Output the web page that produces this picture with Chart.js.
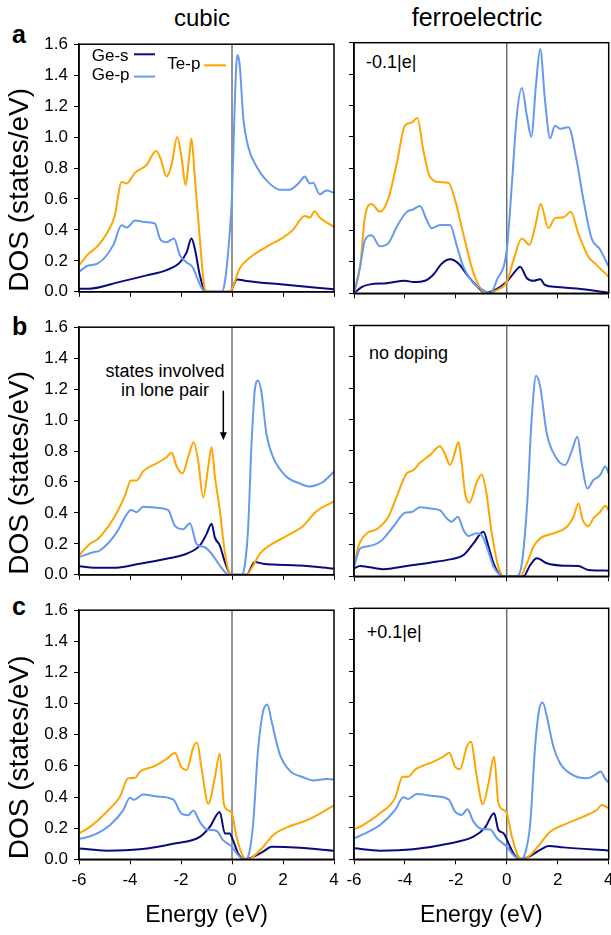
<!DOCTYPE html>
<html>
<head>
<meta charset="utf-8">
<script src="https://cdn.jsdelivr.net/npm/chart.js@4.4.1/dist/chart.umd.min.js"></script>
<style>
  html, body { margin: 0; padding: 0; background: #fff; overflow: hidden; }
  body { width: 611px; height: 935px; position: relative; font-family: "Liberation Sans", Arial, sans-serif; }
  canvas { position: absolute; }
  .txt { position: absolute; white-space: nowrap; line-height: 1; color: #000; }
  .mid { transform: translateX(-50%); }
</style>
</head>
<body>
<div class="txt mid" style="left:202px; top:5.7px; font-size:24px;">cubic</div>
<div class="txt mid" style="left:477px; top:4.8px; font-size:25px;">ferroelectric</div>
<div class="txt" style="left:12px; top:22.1px; font-size:25px; font-weight:bold;">a</div>
<div class="txt" style="left:12px; top:313.8px; font-size:25px; font-weight:bold;">b</div>
<div class="txt" style="left:12px; top:593.8px; font-size:25px; font-weight:bold;">c</div>
<div class="txt" style="left:366px; top:53.1px; font-size:18px;">-0.1|e|</div>
<div class="txt" style="left:369px; top:344.1px; font-size:18px;">no doping</div>
<div class="txt" style="left:366.7px; top:623px; font-size:18px;">+0.1|e|</div>
<div class="txt mid" style="left:165px; top:362px; font-size:18px;">states involved</div>
<div class="txt mid" style="left:165px; top:380.5px; font-size:18px;">in lone pair</div>

<script>
// DOS curves, [energy (eV), DOS (states/eV)]
// row a: -0.1|e| doping
const a_cubic_geS = [[-6,0.02],[-5.6,0.02],[-4.4,0.064],[-3.35,0.106],[-2.57,0.14],[-2.04,0.19],[-1.78,0.255],[-1.59,0.345],[-1.46,0.28],[-1.26,0.106],[-1.07,0.01],[-0.93,0],[-0.09,0],[0.2,0.08],[0.57,0.07],[2.0,0.047],[4,0.017]]
const a_cubic_geP = [[-6,0.13],[-5.63,0.17],[-5.3,0.18],[-4.66,0.30],[-4.33,0.43],[-4.13,0.415],[-3.8,0.46],[-3.35,0.45],[-3.02,0.44],[-2.83,0.345],[-2.57,0.32],[-2.28,0.345],[-2.04,0.235],[-1.78,0.19],[-1.55,0.16],[-1.33,0.075],[-1.13,0.01],[-1.0,0],[-0.41,0],[-0.28,0.064],[-0.09,0.38],[0,0.62],[0.11,1.23],[0.21,1.53],[0.3,1.47],[0.44,1.13],[0.63,0.94],[0.96,0.81],[1.35,0.72],[1.87,0.66],[2.26,0.66],[2.66,0.71],[2.85,0.745],[3.05,0.70],[3.18,0.705],[3.44,0.63],[3.7,0.655],[4,0.64]]
const a_cubic_teP = [[-6,0.17],[-5.63,0.245],[-5.3,0.29],[-4.9,0.38],[-4.6,0.49],[-4.33,0.71],[-4.13,0.70],[-3.8,0.77],[-3.35,0.82],[-2.98,0.91],[-2.8,0.86],[-2.57,0.745],[-2.37,0.82],[-2.15,1.0],[-1.98,0.87],[-1.82,0.69],[-1.68,0.87],[-1.59,0.99],[-1.46,0.745],[-1.26,0.34],[-1.07,0.02],[-0.93,0],[-0.09,0],[0.05,0.04],[0.3,0.15],[0.7,0.22],[1.35,0.29],[2.0,0.35],[2.39,0.40],[2.85,0.49],[3.05,0.48],[3.24,0.52],[3.44,0.48],[4,0.42]]
const a_ferro_geS = [[-6,0],[-5.7,0.04],[-5.37,0.057],[-4.72,0.064],[-4.0,0.08],[-3.67,0.072],[-3.21,0.08],[-2.88,0.12],[-2.55,0.19],[-2.23,0.217],[-1.9,0.19],[-1.57,0.12],[-1.18,0.047],[-0.85,0.004],[-0.52,0.017],[0,0.074],[0.33,0.14],[0.52,0.17],[0.79,0.096],[1.05,0.08],[1.31,0.09],[1.5,0.053],[1.96,0.04],[2.74,0.03],[4,0.004]]
const a_ferro_geP = [[-6,0],[-5.76,0.17],[-5.57,0.34],[-5.31,0.37],[-4.98,0.30],[-4.65,0.32],[-4.32,0.425],[-3.93,0.52],[-3.67,0.536],[-3.41,0.557],[-3.15,0.47],[-2.95,0.415],[-2.62,0.436],[-2.23,0.436],[-1.96,0.30],[-1.71,0.17],[-1.31,0.064],[-0.92,0.02],[-0.65,0],[-0.39,0.085],[0,0.28],[0.2,0.70],[0.39,1.13],[0.59,1.31],[0.79,1.13],[0.96,1.0],[1.15,1.34],[1.31,1.56],[1.5,1.23],[1.7,0.99],[1.89,1.07],[2.09,1.05],[2.42,1.06],[2.74,0.85],[3.01,0.595],[3.33,0.35],[3.66,0.28],[4,0.17]]
const a_ferro_teP = [[-6,0],[-5.76,0.17],[-5.57,0.49],[-5.31,0.57],[-4.98,0.52],[-4.65,0.606],[-4.32,0.83],[-4.0,1.07],[-3.74,1.09],[-3.51,1.12],[-3.28,0.915],[-3.02,0.745],[-2.62,0.71],[-2.29,0.705],[-2.03,0.595],[-1.71,0.38],[-1.31,0.13],[-0.99,0.02],[-0.72,0],[-0.39,0.02],[0,0.074],[0.26,0.21],[0.59,0.35],[0.89,0.31],[1.11,0.425],[1.33,0.57],[1.63,0.415],[1.89,0.48],[2.22,0.485],[2.51,0.52],[2.81,0.38],[3.2,0.234],[3.53,0.18],[4,0.106]]
// row b: no doping
const b_cubic_geS = [[-6,0.055],[-5.18,0.045],[-4.66,0.045],[-3.61,0.072],[-2.57,0.104],[-1.78,0.136],[-1.26,0.19],[-1.0,0.263],[-0.8,0.33],[-0.67,0.24],[-0.48,0.19],[-0.28,0.083],[-0.09,0.008],[0.05,0],[0.57,0],[0.89,0.083],[1.22,0.072],[2.66,0.06],[4,0.04]]
const b_cubic_geP = [[-6,0.115],[-5.44,0.146],[-5.18,0.157],[-4.52,0.274],[-4.13,0.39],[-3.96,0.418],[-3.74,0.405],[-3.48,0.44],[-2.96,0.433],[-2.5,0.418],[-2.24,0.316],[-1.91,0.295],[-1.65,0.333],[-1.39,0.20],[-1.07,0.178],[-0.8,0.136],[-0.48,0.06],[-0.22,0.008],[-0.09,0],[0.37,0],[0.5,0.06],[0.63,0.295],[0.76,0.825],[0.89,1.186],[1.02,1.256],[1.15,1.186],[1.35,0.91],[1.61,0.76],[2.13,0.635],[2.66,0.59],[3.05,0.57],[3.31,0.58],[3.57,0.60],[4,0.667]]
const b_cubic_teP = [[-6,0.125],[-5.57,0.20],[-5.24,0.235],[-4.66,0.36],[-4.2,0.51],[-3.96,0.61],[-3.74,0.61],[-3.48,0.67],[-2.96,0.72],[-2.57,0.76],[-2.37,0.79],[-2.17,0.70],[-1.94,0.655],[-1.72,0.76],[-1.5,0.857],[-1.33,0.74],[-1.13,0.50],[-0.93,0.70],[-0.8,0.825],[-0.67,0.635],[-0.48,0.42],[-0.28,0.146],[-0.09,0.008],[0.05,0],[0.57,0],[0.83,0.06],[1.09,0.136],[1.48,0.19],[2.13,0.25],[2.79,0.316],[3.31,0.41],[4,0.475]]
const b_ferro_geS = [[-6,0.05],[-5.76,0.066],[-4.85,0.045],[-3.93,0.066],[-3.02,0.087],[-2.23,0.108],[-1.7,0.136],[-1.31,0.21],[-0.92,0.284],[-0.72,0.19],[-0.52,0.083],[-0.26,0.008],[-0.13,0],[0.65,0],[0.92,0.072],[1.18,0.115],[1.57,0.083],[2.22,0.068],[2.81,0.066],[3.2,0.04],[4,0.036]]
const b_ferro_geP = [[-6,0.06],[-5.76,0.178],[-5.5,0.19],[-4.98,0.22],[-4.46,0.316],[-4.0,0.405],[-3.74,0.41],[-3.41,0.44],[-3.02,0.433],[-2.62,0.42],[-2.36,0.37],[-2.16,0.348],[-1.92,0.38],[-1.7,0.295],[-1.51,0.257],[-1.18,0.274],[-0.99,0.263],[-0.79,0.19],[-0.52,0.06],[-0.26,0.008],[-0.13,0],[0.39,0],[0.59,0.083],[0.79,0.44],[0.98,1.016],[1.15,1.28],[1.31,1.21],[1.57,0.91],[1.96,0.75],[2.29,0.71],[2.55,0.80],[2.77,0.89],[2.94,0.72],[3.16,0.56],[3.4,0.614],[3.66,0.645],[3.87,0.70],[4,0.656]]
const b_ferro_teP = [[-6,0.06],[-5.83,0.19],[-5.5,0.274],[-5.11,0.30],[-4.65,0.38],[-4.32,0.51],[-3.93,0.656],[-3.67,0.677],[-3.41,0.724],[-3.02,0.773],[-2.62,0.83],[-2.43,0.78],[-2.23,0.71],[-2.07,0.773],[-1.9,0.857],[-1.77,0.72],[-1.64,0.53],[-1.47,0.47],[-1.18,0.60],[-0.99,0.65],[-0.82,0.55],[-0.59,0.274],[-0.33,0.06],[-0.13,0],[0.52,0],[0.79,0.083],[1.05,0.19],[1.31,0.242],[1.83,0.274],[2.36,0.316],[2.62,0.38],[2.81,0.465],[2.98,0.36],[3.2,0.32],[3.4,0.37],[3.66,0.41],[3.87,0.45],[4,0.42]]
// row c: +0.1|e| doping
const c_cubic_geS = [[-6,0.07],[-4.92,0.055],[-3.61,0.064],[-2.31,0.10],[-1.26,0.144],[-0.87,0.208],[-0.48,0.304],[-0.28,0.166],[-0.09,0.166],[0.04,0.123],[0.24,0.038],[0.5,0],[0.83,0.017],[1.22,0.049],[1.55,0.08],[2.66,0.074],[4,0.055]]
const c_cubic_geP = [[-6,0.13],[-5.44,0.155],[-4.79,0.219],[-4.27,0.314],[-4.0,0.395],[-3.85,0.382],[-3.48,0.416],[-2.96,0.404],[-2.31,0.385],[-1.98,0.293],[-1.72,0.283],[-1.52,0.314],[-1.26,0.24],[-1.0,0.193],[-0.61,0.183],[-0.35,0.123],[0,0.08],[0.24,0.027],[0.5,0],[0.67,0.038],[0.83,0.23],[1.02,0.70],[1.22,0.95],[1.39,0.994],[1.55,0.888],[1.87,0.676],[2.26,0.57],[2.79,0.527],[3.18,0.506],[3.7,0.516],[4,0.512]]
const c_cubic_teP = [[-6,0.166],[-5.57,0.208],[-4.92,0.304],[-4.4,0.40],[-4.07,0.52],[-3.8,0.523],[-3.61,0.563],[-3.09,0.595],[-2.57,0.644],[-2.24,0.682],[-1.98,0.59],[-1.78,0.574],[-1.52,0.718],[-1.37,0.75],[-1.2,0.59],[-0.93,0.357],[-0.67,0.527],[-0.48,0.68],[-0.32,0.357],[-0.15,0.315],[0,0.293],[0.18,0.144],[0.44,0.017],[0.63,0],[0.83,0.017],[1.22,0.08],[1.61,0.155],[2.13,0.204],[2.92,0.25],[3.44,0.293],[4,0.346]]
const c_ferro_geS = [[-6,0.07],[-4.98,0.055],[-3.67,0.064],[-2.36,0.098],[-1.31,0.144],[-0.85,0.204],[-0.5,0.293],[-0.33,0.187],[-0.13,0.166],[0.07,0.10],[0.26,0.038],[0.52,0],[0.92,0.021],[1.31,0.06],[1.64,0.085],[2.22,0.076],[4,0.055]]
const c_ferro_geP = [[-6,0.134],[-5.63,0.16],[-4.98,0.219],[-4.39,0.314],[-4.06,0.395],[-3.87,0.385],[-3.54,0.416],[-2.88,0.404],[-2.29,0.382],[-2.03,0.304],[-1.77,0.283],[-1.55,0.319],[-1.31,0.24],[-0.98,0.193],[-0.65,0.19],[-0.39,0.134],[0,0.08],[0.26,0.027],[0.52,0],[0.72,0.038],[0.92,0.23],[1.11,0.718],[1.28,0.963],[1.41,1.0],[1.57,0.91],[1.83,0.718],[2.09,0.612],[2.48,0.548],[3.14,0.516],[3.46,0.538],[3.69,0.56],[3.85,0.516],[4,0.489]]
const c_ferro_teP = [[-6,0.19],[-5.63,0.22],[-4.98,0.293],[-4.39,0.39],[-4.09,0.527],[-3.87,0.527],[-3.61,0.57],[-2.88,0.623],[-2.49,0.654],[-2.26,0.68],[-2.03,0.59],[-1.84,0.574],[-1.57,0.718],[-1.41,0.75],[-1.18,0.527],[-0.94,0.35],[-0.72,0.484],[-0.5,0.654],[-0.33,0.357],[-0.13,0.315],[0,0.293],[0.2,0.144],[0.46,0.017],[0.65,0],[0.92,0.027],[1.31,0.10],[1.7,0.176],[2.22,0.219],[3.0,0.272],[3.53,0.314],[3.72,0.346],[4,0.325]]

const energyTicks = [-6, -4, -2, 0, 2, 4]
const dosTicks = [0, 0.2, 0.4, 0.6, 0.8, 1.0, 1.2, 1.4, 1.6]

const FONT = '"Liberation Sans", Arial, sans-serif'
const colors = { 'Ge-s': '#0a0a80', 'Ge-p': '#6699ee', 'Te-p': '#ffa500' }

// plot area edges in page pixels
const rowTop = [42.7, 325.5, 608.3]
const rowBottom = [293.3, 576.3, 859.3]
const colLeft = [0, 340]        // canvas left
const colWidth = [345, 280]     // canvas width (right one runs past the window)
const colAxisW = [79, 14]       // y axis box width
const colRight = [334, 608.7]   // plot right edge

/* frame box + zero line */
const frame = {
    id: 'frame',
    beforeDatasetsDraw(chart) {
        const { ctx, chartArea: a, scales: { x } } = chart
        const x0 = x.getPixelForValue(0)
        ctx.save()
        ctx.strokeStyle = '#2a2a2a'
        ctx.lineWidth = 1
        ctx.beginPath()
        ctx.moveTo(x0, a.top)
        ctx.lineTo(x0, a.bottom)
        ctx.stroke()
        ctx.restore()
    },
    afterDatasetsDraw(chart) {
        const { ctx, chartArea: a } = chart
        ctx.save()
        ctx.strokeStyle = '#000'
        ctx.lineWidth = 1.5
        ctx.strokeRect(a.left, a.top, a.right - a.left, a.bottom - a.top)
        ctx.restore()
    }
}

/* legend of panel a: text then a short line sample */
const legendBox = {
    id: 'legendBox',
    afterDraw(chart, args, opts) {
        if (!opts.items) return
        const ctx = chart.ctx
        ctx.save()
        ctx.font = '17px ' + FONT
        ctx.fillStyle = '#000'
        ctx.textBaseline = 'alphabetic'
        opts.items.forEach(it => {
            const ds = chart.data.datasets.find(d => d.label === it.label)
            ctx.fillText(ds.label, it.tx, it.ty)
            ctx.strokeStyle = ds.borderColor
            ctx.lineWidth = 2
            ctx.beginPath()
            ctx.moveTo(it.lx1, it.ly)
            ctx.lineTo(it.lx2, it.ly)
            ctx.stroke()
        })
        ctx.restore()
    }
}

/* down arrow for the lone pair note */
const arrow = {
    id: 'arrow',
    afterDraw(chart, args, opts) {
        if (!opts.at) return
        const { ctx, scales: { x, y } } = chart
        const px = x.getPixelForValue(opts.at[0])
        const y1 = y.getPixelForValue(opts.at[1])
        const y2 = y.getPixelForValue(opts.at[2])
        ctx.save()
        ctx.strokeStyle = '#000'
        ctx.fillStyle = '#000'
        ctx.lineWidth = 1.5
        ctx.beginPath()
        ctx.moveTo(px, y1)
        ctx.lineTo(px, y2 - 7)
        ctx.stroke()
        ctx.beginPath()
        ctx.moveTo(px - 3.5, y2 - 8)
        ctx.lineTo(px + 3.5, y2 - 8)
        ctx.lineTo(px, y2)
        ctx.closePath()
        ctx.fill()
        ctx.restore()
    }
}

const toXY = arr => arr.map(p => ({ x: p[0], y: p[1] }))

const panel = (row, col, geS, geP, teP, extra) => {
    const cv = document.createElement('canvas')
    const top = Math.floor(rowTop[row] - 14)
    const bottom = row === 2 ? 935 : Math.ceil(rowBottom[row] + 14)
    const h = bottom - top
    cv.width = colWidth[col]
    cv.height = h
    cv.style.left = colLeft[col] + 'px'
    cv.style.top = top + 'px'
    cv.style.width = colWidth[col] + 'px'
    cv.style.height = h + 'px'
    document.body.appendChild(cv)

    const showX = row === 2
    const showY = col === 0
    const xH = top + h - rowBottom[row]
    const line = (label, d) => ({
        label: label, data: toXY(d), borderColor: colors[label],
        borderWidth: 2, pointRadius: 0, cubicInterpolationMode: 'monotone', fill: false
    })

    new Chart(cv, {
        type: 'line',
        data: { datasets: [line('Ge-p', geP), line('Te-p', teP), line('Ge-s', geS)] },
        options: {
            responsive: false,
            animation: false,
            layout: { padding: { top: rowTop[row] - top, right: colLeft[col] + colWidth[col] - colRight[col], left: 0, bottom: 0 } },
            plugins: {
                legend: { display: false },
                tooltip: { enabled: false },
                legendBox: extra && extra.legend ? { items: extra.legend } : {},
                arrow: extra && extra.arrow ? { at: extra.arrow } : {}
            },
            scales: {
                x: {
                    type: 'linear', min: -6, max: 4,
                    afterBuildTicks: s => { s.ticks = energyTicks.map(v => ({ value: v })) },
                    ticks: { display: showX, font: { family: FONT, size: 17 }, color: '#000', padding: 6, maxRotation: 0 },
                    grid: { drawOnChartArea: false, drawTicks: true, tickLength: 5, color: '#000', lineWidth: 1 },
                    border: { display: true, color: '#000', width: 1.5 },
                    title: { display: showX, text: 'Energy (eV)', color: '#000', font: { family: FONT, size: 23 }, padding: { top: 0, bottom: 6 } },
                    afterFit: s => { s.height = xH }
                },
                y: {
                    type: 'linear', min: 0, max: 1.6,
                    afterBuildTicks: s => { s.ticks = dosTicks.map(v => ({ value: v })) },
                    ticks: { display: showY, callback: v => v.toFixed(1), font: { family: FONT, size: 17 }, color: '#000', padding: 6 },
                    grid: { drawOnChartArea: false, drawTicks: true, tickLength: 5, color: '#000', lineWidth: 1 },
                    border: { display: true, color: '#000', width: 1.5 },
                    title: { display: showY, text: 'DOS (states/eV)', align: 'start', color: '#000', font: { family: FONT, size: 28 }, padding: { top: 3, bottom: 0 } },
                    afterFit: s => { s.width = colAxisW[col] }
                }
            }
        },
        plugins: [frame, legendBox, arrow]
    })
}

panel(0, 0, a_cubic_geS, a_cubic_geP, a_cubic_teP, {
    legend: [
        { label: 'Ge-s', tx: 91.7, ty: 61.7 - 28.7, lx1: 134, lx2: 155, ly: 55 - 28.7 },
        { label: 'Ge-p', tx: 91.7, ty: 80.7 - 28.7, lx1: 134, lx2: 155, ly: 77.3 - 28.7 },
        { label: 'Te-p', tx: 167.3, ty: 70 - 28.7, lx1: 204, lx2: 226, ly: 66 - 28.7 }
    ]
})
panel(0, 1, a_ferro_geS, a_ferro_geP, a_ferro_teP)
panel(1, 0, b_cubic_geS, b_cubic_geP, b_cubic_teP, { arrow: [-0.34, 1.19, 0.87] })
panel(1, 1, b_ferro_geS, b_ferro_geP, b_ferro_teP)
panel(2, 0, c_cubic_geS, c_cubic_geP, c_cubic_teP)
panel(2, 1, c_ferro_geS, c_ferro_geP, c_ferro_teP)
</script>
</body>
</html>
